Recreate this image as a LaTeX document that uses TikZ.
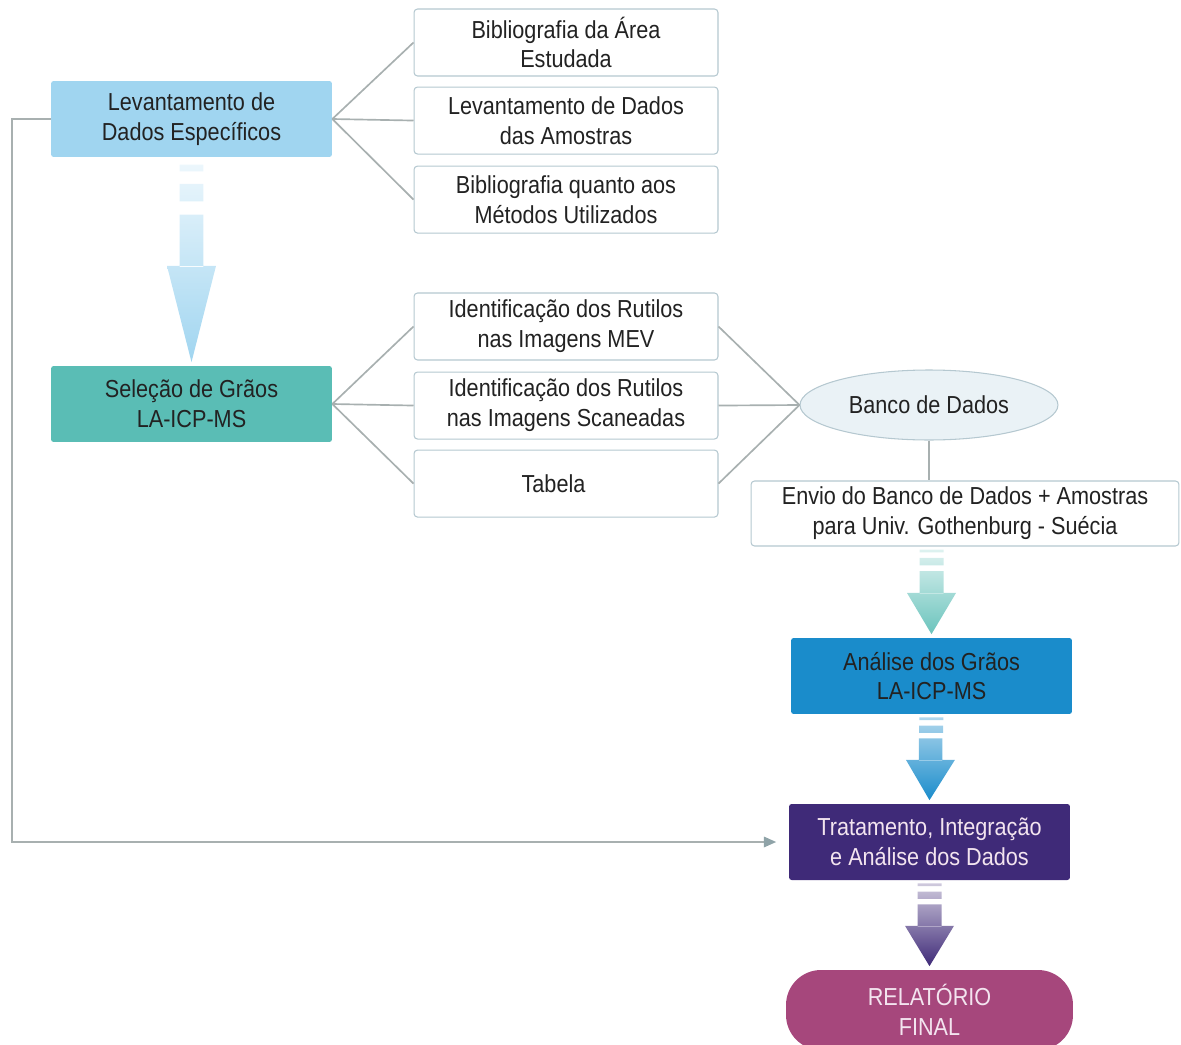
\documentclass[tikz,border=0pt]{standalone}
\usepackage{fontspec}
\setmainfont{Liberation Sans}[FakeStretch=0.88]
\usetikzlibrary{positioning,calc,shapes.geometric,arrows.meta}

\definecolor{levblue}{HTML}{A0D5F0}
\definecolor{selteal}{HTML}{5ABDB5}
\definecolor{anablue}{HTML}{1A8CCB}
\definecolor{tratpurple}{HTML}{3F2A78}
\definecolor{relpink}{HTML}{A6477C}
\definecolor{bancofill}{HTML}{EAF2F6}
\definecolor{boxline}{HTML}{B5C8D0}
\definecolor{linkgray}{HTML}{A8B0B0}
\definecolor{tipgray}{HTML}{8FA3A8}
\definecolor{txtdark}{HTML}{222222}
\definecolor{txtlight}{HTML}{F3E4EF}

\tikzset{
  box/.style={draw=boxline, line width=0.6pt, rounded corners=2pt, fill=white,
    minimum width=6.08cm, minimum height=1.34cm, align=center, inner sep=2pt, text=txtdark},
  stage/.style={rounded corners=1.5pt, minimum width=5.62cm, minimum height=1.52cm,
    align=center, inner sep=2pt},
  link/.style={draw=linkgray, line width=0.95pt},
}

% big shaded arrow between two points: from, to, light colour, dark colour
\newcommand\flowarrow[4]{%
  \coordinate (fa-s) at (#1);
  \coordinate (fa-e) at ($(#2)+(0,0.07cm)$);
  \shade[top color=#3, bottom color=#4]
    ($(fa-s)!0.035!(fa-e)+(-0.24cm,0)$) rectangle ($(fa-s)!0.068!(fa-e)+(0.24cm,0)$)
    ($(fa-s)!0.13!(fa-e)+(-0.24cm,0)$) rectangle ($(fa-s)!0.215!(fa-e)+(0.24cm,0)$)
    ($(fa-s)!0.28!(fa-e)+(-0.24cm,0)$) rectangle ($(fa-s)!0.535!(fa-e)+(0.24cm,0)$)
    ($(fa-s)!0.53!(fa-e)+(-0.49cm,0)$) -- ($(fa-s)!0.53!(fa-e)+(0.49cm,0)$)
      -- (fa-e) -- cycle;
}

\begin{document}
\begin{tikzpicture}[x=0.02cm, y=-0.02cm, font=\fontsize{14}{17}\selectfont]
  \useasboundingbox (0,0) rectangle (1181,1045);

  % main stages
  \node[stage, fill=levblue, text=txtdark] (lev) at (191.5,119) {Levantamento de\\Dados Específicos};
  \node[stage, fill=selteal, text=txtdark] (sel) at (191.5,404) {Seleção de Grãos\\LA-ICP-MS};

  % first group
  \node[box] (bib1) at (566,42.5) {Bibliografia da Área\\Estudada};
  \node[box, below=0.2cm of bib1] (lev2) {Levantamento de Dados\\das Amostras};
  \node[box, below=0.22cm of lev2] (bib2) {Bibliografia quanto aos\\Métodos Utilizados};

  % second group
  \node[box] (id1) at (566,326.5) {Identificação dos Rutilos\\nas Imagens MEV};
  \node[box, below=0.22cm of id1] (id2) {Identificação dos Rutilos\\nas Imagens Scaneadas};
  \node[box, below=0.2cm of id2] (tab) {\hspace*{-0.5cm}Tabela};

  \node[ellipse, draw=boxline, line width=0.6pt, fill=bancofill, text=txtdark,
    minimum width=5.16cm, minimum height=1.4cm] (banco) at (929,405) {Banco de Dados};
  \node[box, minimum width=8.56cm, minimum height=1.3cm] (envio) at (965,513.5)
    {Envio do Banco de Dados + Amostras\\para Univ. Gothenburg - Suécia};

  \node[stage, fill=anablue, text=txtdark] (ana) at (931.5,676) {Análise dos Grãos\\LA-ICP-MS};
  \node[stage, fill=tratpurple, text=txtlight] (trat) at (929.5,842) {Tratamento, Integração\\e Análise dos Dados};
  \node[stage, fill=relpink, text=txtlight, rounded corners=0.7cm, minimum width=5.74cm,
    minimum height=1.6cm] (rel) at (929.5,1010) {RELATÓRIO\\FINAL};

  % connectors
  \foreach \b in {bib1,lev2,bib2}
    \draw[link] (lev.east) -- (\b.west);
  \foreach \b in {id1,id2,tab}
    \draw[link] (sel.east) -- (\b.west);
  \foreach \b in {id1,id2,tab}
    \draw[link] (\b.east) -- (banco.west);
  \draw[link] (banco.south) -- (banco.south |- envio.north);
  \draw[link, -{Triangle[length=7pt,width=6pt,color=tipgray]}, shorten >=0.25cm]
    (lev.west) -- ++(-39,0) |- (trat.west);

  % shaded arrows
  \coordinate (envio-out) at (envio.south -| ana.north);
  \flowarrow{lev.south}{sel.north}{levblue!20}{levblue}
  \flowarrow{envio-out}{ana.north}{selteal!20}{selteal!90}
  \flowarrow{ana.south}{trat.north}{anablue!35}{anablue}
  \flowarrow{trat.south}{rel.north}{tratpurple!25}{tratpurple}
\end{tikzpicture}
\end{document}
